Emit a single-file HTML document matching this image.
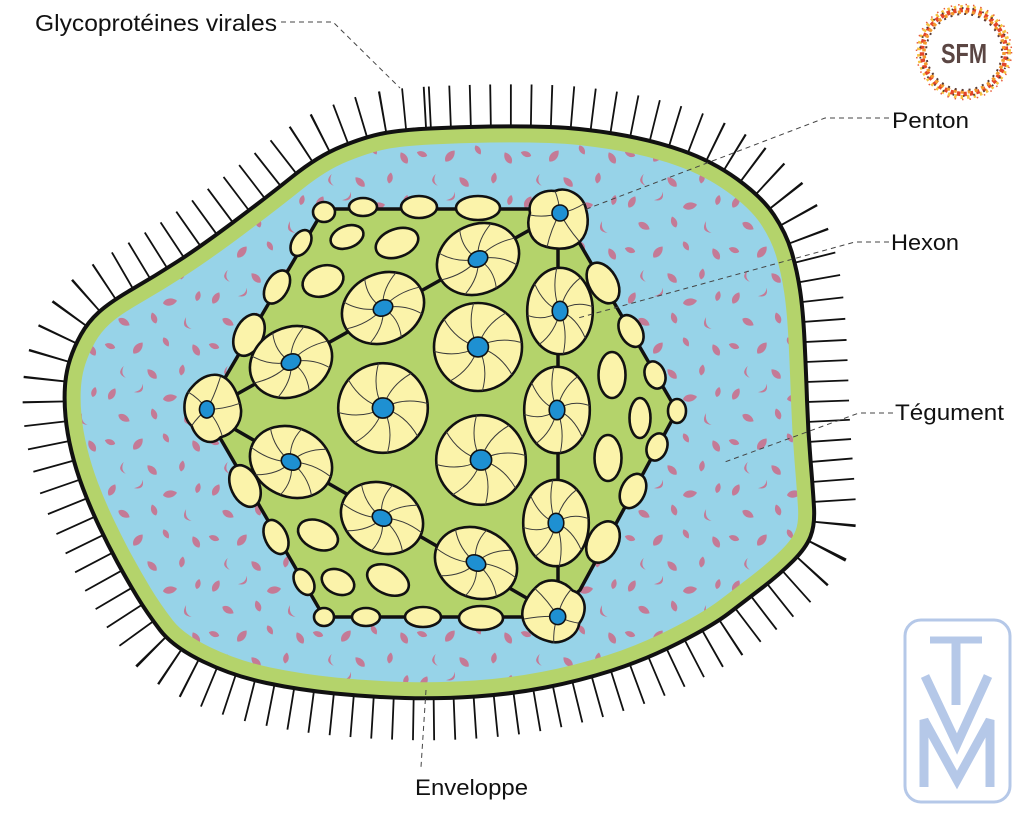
<!DOCTYPE html>
<html><head><meta charset="utf-8">
<style>
html,body{margin:0;padding:0;background:#fff;}
svg{display:block;}
text{font-family:"Liberation Sans",sans-serif;}
</style></head>
<body>
<svg width="1024" height="817" viewBox="0 0 1024 817" xmlns="http://www.w3.org/2000/svg">
<defs>
<path id="env" d="M430,128.5 Q460,127 490,126.5 Q520,126 550,127 Q580,128 616,134 Q652,140 682,150.5 Q712,161 737,179 Q762,197 774,215 Q786,233 791.5,251.5 Q797,270 800,290 Q803,310 804.5,340 Q806,370 807,400 Q808,430 810.5,460 Q813,490 814,507.5 Q815,525 810.5,536.5 Q806,548 793,561 Q780,574 762.5,587.5 Q745,601 728.5,613.5 Q712,626 678.5,643 Q645,660 612,670.5 Q579,681 545.5,687.5 Q512,694 476,696.5 Q440,699 405,698 Q370,697 335,693.5 Q300,690 266.5,683 Q233,676 203,661.5 Q173,647 160,630 Q147,613 137,596.5 Q127,580 117.5,562.5 Q108,545 99,526 Q90,507 83,488.5 Q76,470 71.5,451.5 Q67,433 65.5,416.5 Q64,400 65,386 Q66,372 70,359.5 Q74,347 81,334.5 Q88,322 99,312 Q110,302 132.5,289 Q155,276 177.5,261.5 Q200,247 233.5,222 Q267,197 292.5,176.5 Q318,156 341.5,146.5 Q365,137 382.5,133.5 Q400,130 430,128.5 Z"/>
<clipPath id="ec"><path d="M430,128.5 Q460,127 490,126.5 Q520,126 550,127 Q580,128 616,134 Q652,140 682,150.5 Q712,161 737,179 Q762,197 774,215 Q786,233 791.5,251.5 Q797,270 800,290 Q803,310 804.5,340 Q806,370 807,400 Q808,430 810.5,460 Q813,490 814,507.5 Q815,525 810.5,536.5 Q806,548 793,561 Q780,574 762.5,587.5 Q745,601 728.5,613.5 Q712,626 678.5,643 Q645,660 612,670.5 Q579,681 545.5,687.5 Q512,694 476,696.5 Q440,699 405,698 Q370,697 335,693.5 Q300,690 266.5,683 Q233,676 203,661.5 Q173,647 160,630 Q147,613 137,596.5 Q127,580 117.5,562.5 Q108,545 99,526 Q90,507 83,488.5 Q76,470 71.5,451.5 Q67,433 65.5,416.5 Q64,400 65,386 Q66,372 70,359.5 Q74,347 81,334.5 Q88,322 99,312 Q110,302 132.5,289 Q155,276 177.5,261.5 Q200,247 233.5,222 Q267,197 292.5,176.5 Q318,156 341.5,146.5 Q365,137 382.5,133.5 Q400,130 430,128.5 Z"/></clipPath>
<path id="lf" d="M0,-6.5 C4.5,-2.5 4.2,4 0,6.5 C-4.2,4 -4.5,-2.5 0,-6.5Z"/>
<path id="cr" d="M-5,-3 Q0,6 6,-2 Q1,2 -5,-3Z"/>
<pattern id="fl" width="104" height="96" patternUnits="userSpaceOnUse">
<g fill="#c47a96">
<use href="#lf" transform="translate(8,10) rotate(30)"/>
<use href="#cr" transform="translate(36,6) rotate(-50) scale(1.1)"/>
<use href="#lf" transform="translate(66,14) rotate(80) scale(1.1)"/>
<use href="#lf" transform="translate(94,8) rotate(15) scale(0.8)"/>
<use href="#lf" transform="translate(20,34) rotate(120)"/>
<use href="#lf" transform="translate(50,30) rotate(-20) scale(0.9)"/>
<use href="#cr" transform="translate(82,36) rotate(60) scale(1.2)"/>
<use href="#lf" transform="translate(6,58) rotate(-70) scale(0.85)"/>
<use href="#lf" transform="translate(34,60) rotate(40) scale(1.1)"/>
<use href="#lf" transform="translate(62,54) rotate(150) scale(0.8)"/>
<use href="#lf" transform="translate(92,62) rotate(-30)"/>
<use href="#cr" transform="translate(18,84) rotate(75) scale(1.1)"/>
<use href="#lf" transform="translate(48,86) rotate(-45)"/>
<use href="#lf" transform="translate(78,82) rotate(10) scale(0.85)"/>
</g>
</pattern>
<g id="hx">
<circle r="40" fill="#fbf3aa" stroke="#111" stroke-width="2.6" vector-effect="non-scaling-stroke"/>
<g fill="none" stroke="#3a3a3a" stroke-width="1">
<path vector-effect="non-scaling-stroke" d="M0,0 Q18,-10 39.8,-4"/>
<path vector-effect="non-scaling-stroke" d="M0,0 Q18,-10 39.8,-4" transform="rotate(45)"/>
<path vector-effect="non-scaling-stroke" d="M0,0 Q18,-10 39.8,-4" transform="rotate(90)"/>
<path vector-effect="non-scaling-stroke" d="M0,0 Q18,-10 39.8,-4" transform="rotate(135)"/>
<path vector-effect="non-scaling-stroke" d="M0,0 Q18,-10 39.8,-4" transform="rotate(180)"/>
<path vector-effect="non-scaling-stroke" d="M0,0 Q18,-10 39.8,-4" transform="rotate(225)"/>
<path vector-effect="non-scaling-stroke" d="M0,0 Q18,-10 39.8,-4" transform="rotate(270)"/>
<path vector-effect="non-scaling-stroke" d="M0,0 Q18,-10 39.8,-4" transform="rotate(315)"/>
</g>
<ellipse rx="9.5" ry="9" fill="#1e90d2" stroke="#111" stroke-width="1.6" vector-effect="non-scaling-stroke"/>
</g>
<g id="pen">
<path d="M-27,-6 C-30,-20 -16,-30 -2,-28 C10,-33 26,-24 29,-10 C33,4 30,18 20,25 C10,32 -6,30 -16,26 C-28,20 -31,6 -27,-6Z" fill="#fbf3aa" stroke="#111" stroke-width="2.6" vector-effect="non-scaling-stroke"/>
<g fill="none" stroke="#3a3a3a" stroke-width="1">
<path vector-effect="non-scaling-stroke" d="M3,-6 Q-12,-1 -27,-4"/>
<path vector-effect="non-scaling-stroke" d="M3,-6 Q2,-18 -2,-28"/>
<path vector-effect="non-scaling-stroke" d="M3,-6 Q16,-8 28,-16"/>
<path vector-effect="non-scaling-stroke" d="M3,-6 Q10,8 22,22"/>
<path vector-effect="non-scaling-stroke" d="M3,-6 Q-6,10 -10,28"/>
</g>
<ellipse cx="3" cy="-6" rx="8" ry="8" fill="#1e90d2" stroke="#111" stroke-width="1.6" vector-effect="non-scaling-stroke"/>
</g>
</defs>

<rect width="1024" height="817" fill="#fff"/>

<!-- spikes -->
<use href="#env" fill="none" stroke="#111" stroke-width="84" stroke-dasharray="1.8 18.2"/>
<!-- envelope fill -->
<use href="#env" fill="#97d3e8" stroke="none"/>
<use href="#env" fill="url(#fl)" stroke="none"/>
<!-- green band -->
<g clip-path="url(#ec)"><use href="#env" fill="none" stroke="#b4d36b" stroke-width="32"/></g>
<use href="#env" fill="none" stroke="#111" stroke-width="4"/>

<!-- capsid -->
<polygon points="324,209 545,209 580,244 677,411 580,590 552,617 324,617 205,412" fill="#b4d36b" stroke="#111" stroke-width="3.5" stroke-linejoin="round"/>
<g stroke="#111" stroke-width="3.5">
<line x1="205" y1="412" x2="560" y2="213"/>
<line x1="205" y1="412" x2="556" y2="615"/>
<line x1="558" y1="213" x2="558" y2="615"/>
</g>

<!-- small ellipses -->
<g fill="#fbf3aa" stroke="#111" stroke-width="2.6">
<ellipse cx="363" cy="207" rx="14" ry="9"/>
<ellipse cx="419" cy="207" rx="18" ry="11"/>
<ellipse cx="478" cy="208" rx="22" ry="12"/>
<ellipse cx="324" cy="212" rx="11" ry="10"/>
<ellipse cx="301" cy="243" rx="9" ry="14" transform="rotate(30 301 243)"/>
<ellipse cx="277" cy="287" rx="11" ry="18" transform="rotate(30 277 287)"/>
<ellipse cx="249" cy="335" rx="14" ry="22" transform="rotate(25 249 335)"/>
<ellipse cx="245" cy="486" rx="14" ry="22" transform="rotate(-25 245 486)"/>
<ellipse cx="276" cy="537" rx="11" ry="18" transform="rotate(-25 276 537)"/>
<ellipse cx="304" cy="582" rx="9" ry="14" transform="rotate(-30 304 582)"/>
<ellipse cx="324" cy="617" rx="10" ry="9"/>
<ellipse cx="366" cy="617" rx="14" ry="9"/>
<ellipse cx="423" cy="617" rx="18" ry="10"/>
<ellipse cx="481" cy="618" rx="22" ry="12"/>
<ellipse cx="603" cy="283" rx="14" ry="22" transform="rotate(-30 603 283)"/>
<ellipse cx="631" cy="331" rx="11" ry="17" transform="rotate(-28 631 331)"/>
<ellipse cx="655" cy="375" rx="10" ry="14" transform="rotate(-20 655 375)"/>
<ellipse cx="677" cy="411" rx="9" ry="12"/>
<ellipse cx="657" cy="447" rx="10" ry="14" transform="rotate(20 657 447)"/>
<ellipse cx="633" cy="491" rx="12" ry="18" transform="rotate(25 633 491)"/>
<ellipse cx="603" cy="542" rx="15" ry="22" transform="rotate(28 603 542)"/>
<ellipse cx="347" cy="237" rx="17" ry="11" transform="rotate(-20 347 237)"/>
<ellipse cx="397" cy="243" rx="22" ry="14" transform="rotate(-20 397 243)"/>
<ellipse cx="323" cy="281" rx="21" ry="15" transform="rotate(-20 323 281)"/>
<ellipse cx="318" cy="535" rx="21" ry="14" transform="rotate(25 318 535)"/>
<ellipse cx="338" cy="582" rx="17" ry="12" transform="rotate(25 338 582)"/>
<ellipse cx="388" cy="580" rx="22" ry="14" transform="rotate(25 388 580)"/>
<ellipse cx="612" cy="375" rx="13.5" ry="23"/>
<ellipse cx="640" cy="418" rx="10.5" ry="20"/>
<ellipse cx="608" cy="458" rx="13.5" ry="23"/>
</g>

<!-- hexons -->
<use href="#hx" transform="translate(478,259) rotate(-25) scale(1.06,0.86)"/>
<use href="#hx" transform="translate(383,308) rotate(-25) scale(1.06,0.86)"/>
<use href="#hx" transform="translate(291,362) rotate(-25) scale(1.06,0.86)"/>
<use href="#hx" transform="translate(478,347) scale(1.1)"/>
<use href="#hx" transform="translate(383,408) scale(1.12)"/>
<use href="#hx" transform="translate(481,460) scale(1.12)"/>
<use href="#hx" transform="translate(560,311) scale(0.82,1.08)"/>
<use href="#hx" transform="translate(557,410) scale(0.82,1.08)"/>
<use href="#hx" transform="translate(556,523) scale(0.82,1.08)"/>
<use href="#hx" transform="translate(291,462) rotate(25) scale(1.06,0.86)"/>
<use href="#hx" transform="translate(382,518) rotate(25) scale(1.06,0.86)"/>
<use href="#hx" transform="translate(476,563) rotate(25) scale(1.06,0.86)"/>

<!-- pentons -->
<use href="#pen" transform="translate(557,219)"/>
<use href="#pen" transform="translate(213,409) scale(0.92,1.07) rotate(-120)"/>
<use href="#pen" transform="translate(554,611) rotate(120)"/>

<!-- leader lines -->
<g fill="none" stroke="#444" stroke-width="1" stroke-dasharray="5 4">
<polyline points="281,22 333,22 400,88"/>
<polyline points="889,118 825,118 584,210"/>
<polyline points="889,242 855,242 578,318"/>
<polyline points="893,413 859,413 722,463"/>
<polyline points="426,690 421,767"/>
</g>

<!-- labels -->
<g fill="#111" font-size="22">
<text x="35" y="31" font-size="23" textLength="242" lengthAdjust="spacingAndGlyphs">Glycoprotéines virales</text>
<text x="892" y="128" textLength="77" lengthAdjust="spacingAndGlyphs">Penton</text>
<text x="891" y="250" textLength="68" lengthAdjust="spacingAndGlyphs">Hexon</text>
<text x="895" y="420" textLength="109" lengthAdjust="spacingAndGlyphs">Tégument</text>
<text x="415" y="795" textLength="113" lengthAdjust="spacingAndGlyphs">Enveloppe</text>
</g>

<!-- SFM logo -->
<g fill="none">
<circle cx="964" cy="52" r="45" stroke="#f5c242" stroke-width="4" stroke-dasharray="2.5 4"/>
<circle cx="964" cy="52" r="42" stroke="#e2452a" stroke-width="4.5" stroke-dasharray="3.5 3" stroke-dashoffset="2"/>
<circle cx="964" cy="52" r="40" stroke="#f29a2e" stroke-width="3.5" stroke-dasharray="3 4"/>
<circle cx="964" cy="52" r="38" stroke="#5a3b36" stroke-width="2" stroke-dasharray="2 5" stroke-dashoffset="3"/>
<circle cx="964" cy="52" r="47.5" stroke="#e85a3a" stroke-width="1.5" stroke-dasharray="1.5 6"/>
<circle cx="964" cy="52" r="44" stroke="#4a3a36" stroke-width="1.8" stroke-dasharray="1.5 9" stroke-dashoffset="5"/>
</g>
<circle cx="964" cy="52" r="36" fill="#fff"/>
<text x="964" y="63" text-anchor="middle" font-family="'Liberation Sans Narrow','Liberation Sans',sans-serif" font-weight="bold" font-size="28" fill="#5b4643" textLength="46" lengthAdjust="spacingAndGlyphs">SFM</text>

<!-- TVM logo -->
<g fill="none" stroke="#b5c8e8">
<rect x="905" y="620" width="105" height="182" rx="16" stroke-width="3"/>
<line x1="930" y1="640" x2="982" y2="640" stroke-width="7"/>
<line x1="956" y1="637" x2="956" y2="705" stroke-width="9"/>
<polyline points="925,676 957,744 988,676" stroke-width="9" stroke-linejoin="miter"/>
<polyline points="924,787 924,720 957,780 990,720 990,787" stroke-width="9" stroke-linejoin="miter"/>
</g>
</svg>
</body></html>
